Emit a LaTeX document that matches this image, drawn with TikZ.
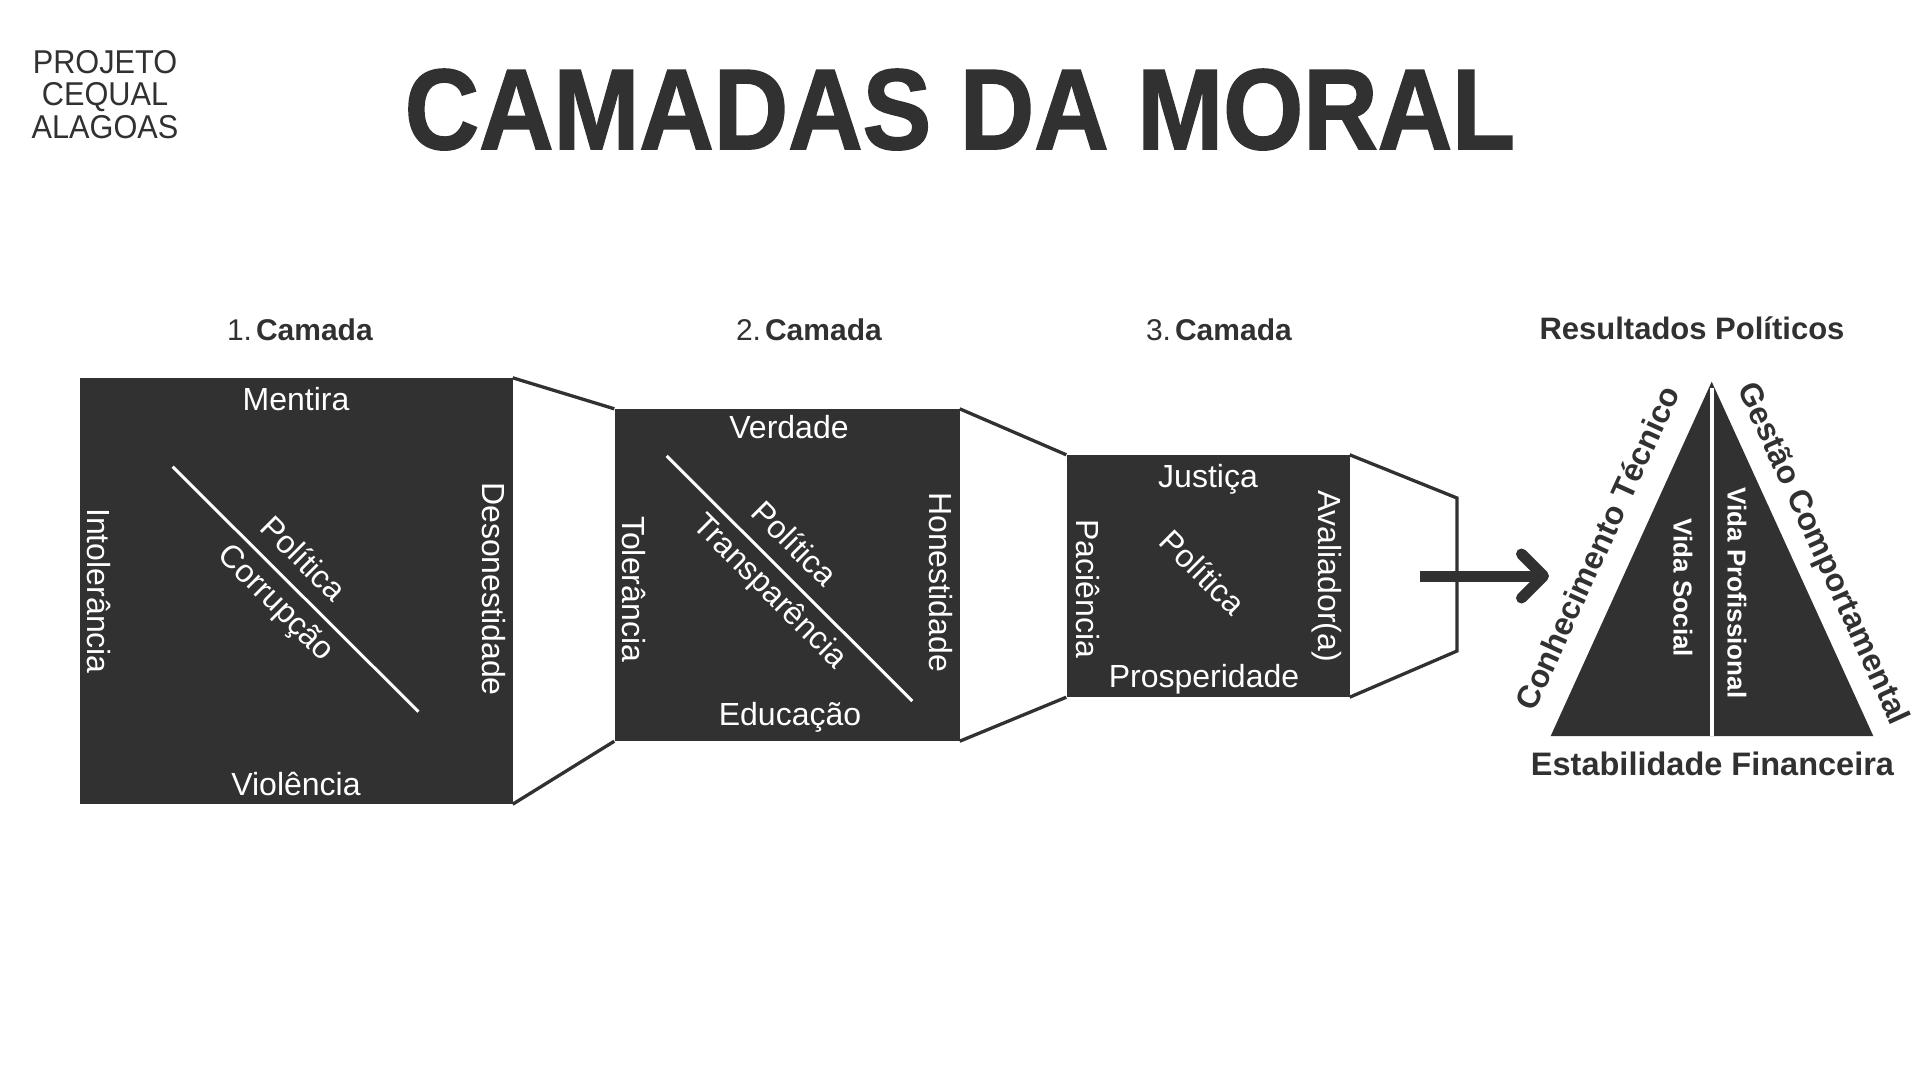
\documentclass[tikz,border=0pt]{standalone}
\usepackage{fontspec}
\setmainfont{Liberation Sans}
\newfontfamily\titlefont{Liberation Sans}[BoldFeatures={FakeBold=1.5}]
\usetikzlibrary{arrows.meta}
\definecolor{ink}{HTML}{313131}

\begin{document}
\begin{tikzpicture}[x=1pt,y=-1pt,
  lay/.style={fill=ink,inner sep=0pt},
  link/.style={draw=ink,line width=3.3pt},
  cut/.style={draw=white,line width=3pt},
  wtxt/.style={text=white,font=\fontsize{32}{36}\selectfont,inner sep=0pt},
  vtxt/.style={wtxt,rotate=-90},
  dtxt/.style={wtxt,rotate=-45},
  head/.style={text=ink,font=\fontsize{30}{36}\selectfont,inner sep=0pt,anchor=base},
  btxt/.style={text=white,font=\bfseries\fontsize{26}{30}\selectfont,inner sep=0pt,rotate=-90},
  etxt/.style={text=ink,font=\bfseries\fontsize{32}{36}\selectfont,inner sep=0pt}]
\fill[white] (0,0) rectangle (1920,1080);
\useasboundingbox (0,0) rectangle (1920,1080);
% title
\node[text=ink,align=center,inner sep=0pt,anchor=north,xscale=0.93,font=\fontsize{33}{32.5}\selectfont] (proj) at (105,50) {PROJETO\\CEQUAL\\ALAGOAS};
\node[text=ink,inner sep=0pt,anchor=base,xscale=0.9,font=\titlefont\bfseries\fontsize{114.5}{120}\selectfont] (title) at (960,149) {CAMADAS DA MORAL};
% headers
\node[head] (cam1) at (300,340) {1.\hspace{4pt}\textbf{Camada}};
\node[head] (cam2) at (809,340) {2.\hspace{4pt}\textbf{Camada}};
\node[head] (cam3) at (1219,340) {3.\hspace{4pt}\textbf{Camada}};
\node[head,font=\bfseries\fontsize{31}{36}\selectfont] (res0) at (1692,339) {Resultados Políticos};
% layers
\node[lay,minimum width=433pt,minimum height=426pt] (box1) at (296,591) {};
\node[lay,minimum width=345pt,minimum height=332pt] (box2) at (787,575) {};
\node[lay,minimum width=283pt,minimum height=242pt] (box3) at (1208,576) {};
\draw[link] (box1.north east) -- (box2.north west);
\draw[link] (box1.south east) -- (box2.south west);
\draw[link] (box2.north east) -- (box3.north west);
\draw[link] (box2.south east) -- (box3.south west);
\coordinate (fun1) at (1457,498);
\coordinate (fun2) at (1457,651);
\draw[link] (box3.north east) -- (fun1) -- (fun2) -- (box3.south east);
% layer 1
\node[wtxt,anchor=base] (m1) at (296,410) {Mentira};
\node[wtxt,anchor=base] (v1) at (296,795) {Violência};
\node[vtxt] (i1) at (99,591) {Intolerância};
\node[vtxt] (d1) at (494,589) {Desonestidade};
\coordinate (s1a) at (172.6,466.7);
\coordinate (s1b) at (418.5,711.7);
\draw[cut] (s1a) -- (s1b);
\node[dtxt] (p1) at (304,558) {Política};
\node[dtxt] (c1) at (275,604) {Corrupção};
% layer 2
\node[wtxt,anchor=base] (v2) at (789,438) {Verdade};
\node[wtxt,anchor=base] (e2) at (790,725) {Educação};
\node[vtxt] (t2) at (634,589) {Tolerância};
\node[vtxt] (h2) at (941,582) {Honestidade};
\coordinate (s2a) at (666.7,456);
\coordinate (s2b) at (912.3,701);
\draw[cut] (s2a) -- (s2b);
\node[dtxt] (p2) at (795,543) {Política};
\node[dtxt] (t2b) at (769,592) {Transparência};
% layer 3
\node[wtxt,anchor=base] (j3) at (1208,487) {Justiça};
\node[wtxt,anchor=base] (p3b) at (1204,687) {Prosperidade};
\node[vtxt] (p3c) at (1087.5,589) {Paciência};
\node[vtxt] (a3) at (1327,576) {Avaliador(a)};
\node[dtxt] (p3) at (1203,572) {Política};
% arrow
\coordinate (arr0) at (1420,576);
\coordinate (arr1) at (1549,576);
\draw[ink,line width=11pt,-{Straight Barb[round,length=22pt,width=44pt]}] (arr0) -- (arr1);
% results
\coordinate (apex) at (1711.7,381.7);
\coordinate (tl) at (1550.7,736);
\coordinate (tr) at (1873.3,736);
\fill[ink] (tl) -- (apex) -- (tr) -- cycle;
\coordinate (top) at (1712,388);
\coordinate (mid) at (1712,736);
\draw[white,line width=4pt] (top) -- (mid);
\node[btxt] (vs) at (1683,588) {Vida Social};
\node[btxt] (vp) at (1737,593) {Vida Profissional};
\node[etxt,rotate=65.5] (ct) at (1597,548) {Conhecimento Técnico};
\node[etxt,rotate=-65.5] (gc) at (1822,554) {Gestão Comportamental};
\node[text=ink,inner sep=0pt,anchor=base,font=\bfseries\fontsize{32.5}{36}\selectfont] (ef) at (1712.5,775) {Estabilidade Financeira};
\end{tikzpicture}
\end{document}
